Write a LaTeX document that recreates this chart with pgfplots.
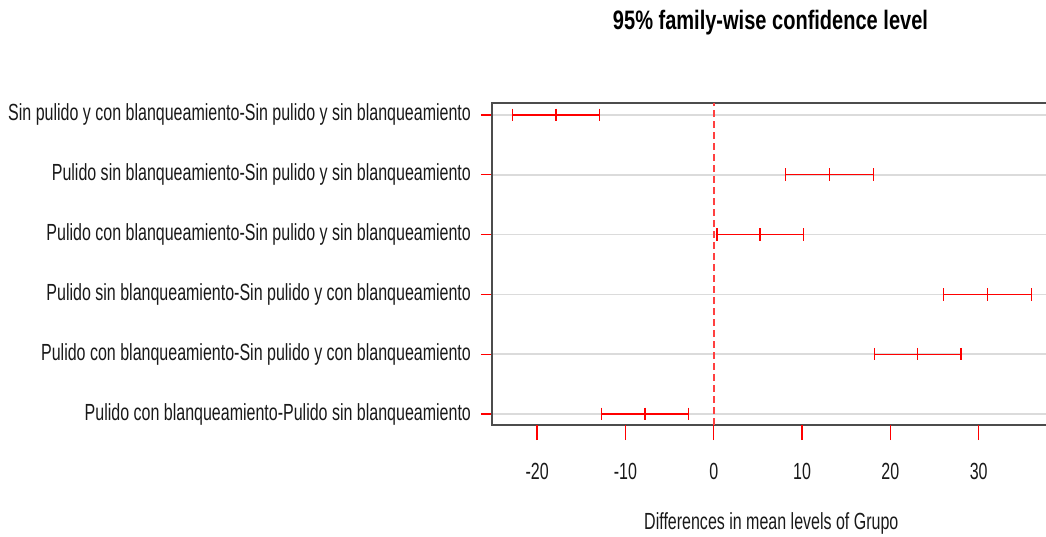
\documentclass[border=0pt]{standalone}
\usepackage{pgfplots}
\pgfplotsset{compat=1.18}
\usepackage{fontspec}
\setmainfont{Liberation Sans}[FakeStretch=0.686]
\newfontfamily\titlefont{Liberation Sans Bold}[FakeStretch=0.751]
\newlength\px \setlength\px{0.75pt}
\newcommand\lbl{\fontsize{17.5pt}{20pt}\selectfont}
\begin{document}
\lbl
\begin{tikzpicture}
\begin{axis}[
 at={(492\px,-103\px)}, anchor=north west,
 scale only axis, width=560.9\px, height=322\px,
 xmin=-25.11, xmax=38.4, ymin=0.816, ymax=6.2,
 axis line style={draw=black!70, line width=1.4\px},
 xtick={-20,-10,0,10,20,30}, xticklabels={-20,-10,0,10,20,30},
 ytick={1,2,3,4,5,6},
 yticklabels={{Pulido con blanqueamiento-Pulido sin blanqueamiento},
  {Pulido con blanqueamiento-Sin pulido y con blanqueamiento},
  {Pulido sin blanqueamiento-Sin pulido y con blanqueamiento},
  {Pulido con blanqueamiento-Sin pulido y sin blanqueamiento},
  {Pulido sin blanqueamiento-Sin pulido y sin blanqueamiento},
  {Sin pulido y con blanqueamiento-Sin pulido y sin blanqueamiento}},
 xtick pos=bottom, ytick pos=left,
 tick align=outside, major tick length=11\px,
 tick style={red, line width=1.3\px},
 xtick style={draw=none},
 ymajorgrids, major grid style={draw=black!14, line width=1.6\px},
 ticklabel style={font=\lbl, text=black!90},
 yticklabel style={xshift=-2\px},
 xticklabel style={anchor=base, yshift=-43\px},
 title={\titlefont 95\% family-wise confidence level},
 title style={at={(axis description cs:0.4965,1.2019)}, anchor=base, yshift=0pt, font=\fontsize{20pt}{24pt}\selectfont},
 xlabel={Differences in mean levels of Grupo},
 xlabel style={at={(axis description cs:0.498,-0.323)}, anchor=base, font=\lbl, text=black!90},
 clip=false,
]
\addplot[draw=red!75, line width=1.6\px, dash pattern=on 7\px off 4\px] coordinates {(0,0.816) (0,6.2)};
\addplot[red, line width=1.3\px, mark=|, mark size=6.3\px, mark options={solid}] coordinates {(-22.75,6) (-17.85,6) (-12.95,6)};
\addplot[red, line width=1.3\px, mark=|, mark size=6.3\px, mark options={solid}] coordinates {(8.15,5) (13.1,5) (18.05,5)};
\addplot[red, line width=1.3\px, mark=|, mark size=6.3\px, mark options={solid}] coordinates {(0.35,4) (5.25,4) (10.15,4)};
\addplot[red, line width=1.3\px, mark=|, mark size=6.3\px, mark options={solid}] coordinates {(26.05,3) (31.0,3) (35.95,3)};
\addplot[red, line width=1.3\px, mark=|, mark size=6.3\px, mark options={solid}] coordinates {(18.2,2) (23.1,2) (28.0,2)};
\addplot[red, line width=1.3\px, mark=|, mark size=6.3\px, mark options={solid}] coordinates {(-12.75,1) (-7.8,1) (-2.85,1)};
\end{axis}
\begin{axis}[
 at={(492\px,-103\px)}, anchor=north west,
 scale only axis, width=560.9\px, height=322\px,
 xmin=-25.11, xmax=38.4, ymin=0.816, ymax=6.2,
 axis x line*=bottom, axis y line=none,
 axis line style={draw=none},
 xtick={-20,-10,0,10,20,30}, xticklabels={},
 xtick pos=bottom, tick align=outside, major tick length=15\px,
 tick style={red, line width=1.3\px},
]
\end{axis}
\pgfresetboundingbox
\useasboundingbox (0,0) rectangle (1046\px,-536\px);
\end{tikzpicture}
\end{document}
